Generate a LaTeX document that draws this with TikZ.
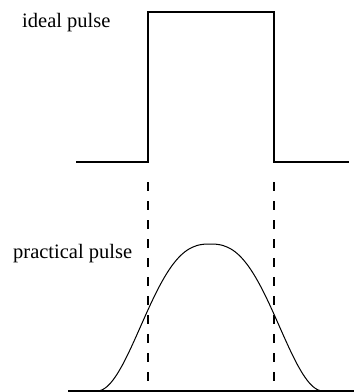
\documentclass[tikz,border=0pt]{standalone}
\usepackage{fontspec}
\setmainfont{Liberation Serif}
\begin{document}
\begin{tikzpicture}[x=1pt,y=-1pt,
  ideal/.style={line width=1.8pt,line join=miter},
  practical/.style={line width=1pt},
  guide/.style={line width=1.4pt,dash pattern=on 9pt off 10pt},
  axisline/.style={line width=1.8pt},
  lbl/.style={anchor=base west,inner sep=0pt,font=\fontsize{20.5}{23}\selectfont}]
\useasboundingbox (0,0) rectangle (354,392);
% ideal pulse
\draw[ideal] (76,162) -- (148,162) -- (148,12) -- (274,12) -- (274,162) -- (349,162);
\node[lbl] (ideallbl) at (22,27) {ideal pulse};
% guides
\draw[guide] (148,182) -- (148,391);
\draw[guide] (274,182) -- (274,391);
% practical pulse
\draw[axisline] (68,391) -- (354,391);
\draw[practical] plot[domain=97:323,samples=114,smooth]
  (\x,{391-73.5*(1+cos(180*exp(1.27*ln(max(abs(\x-210)/113,0.0001)))))});
\node[lbl] (practlbl) at (13,258) {practical pulse};
\end{tikzpicture}
\end{document}
